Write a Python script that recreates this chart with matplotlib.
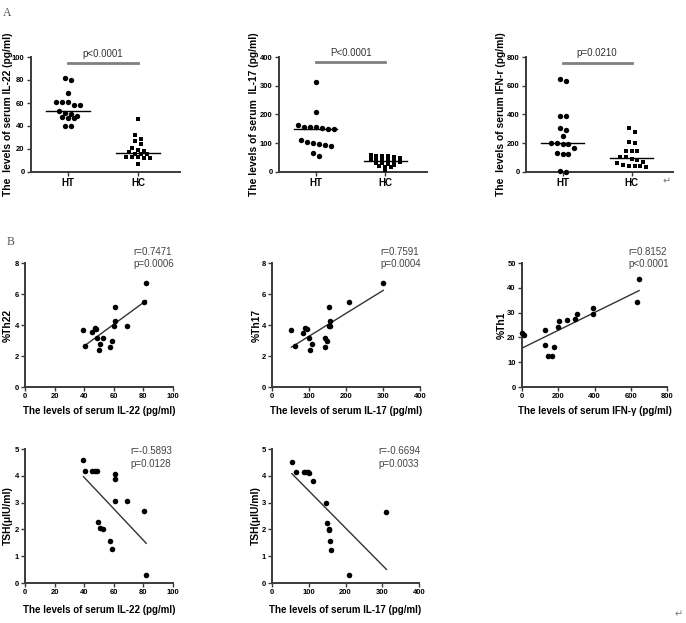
import numpy as np
import matplotlib
matplotlib.use("Agg")
import matplotlib.pyplot as plt
from matplotlib import font_manager

# ---------------- data ----------------
groups = ["HT", "HC"]

il22_ht = [82, 80, 69, 61, 61, 61, 58, 58, 53, 51, 50, 49, 48, 47, 47, 40, 40]
il22_hc = [46, 32, 29, 27, 24, 21, 19, 18, 17, 16, 16, 16, 13, 13, 13, 12, 12, 7]
il17_ht = [312, 208, 162, 158, 158, 155, 153, 151, 149, 112, 105, 102, 98, 95, 91, 67, 56]
il17_hc = [58, 57, 55, 55, 52, 48, 46, 44, 42, 40, 39, 36, 33, 30, 27, 24, 21, 18, 16, 8]
ifn_ht = [649, 635, 393, 393, 307, 293, 247, 200, 200, 195, 193, 170, 135, 126, 126, 5, 0]
ifn_hc = [309, 277, 212, 200, 149, 149, 149, 102, 102, 93, 80, 70, 60, 51, 45, 40, 40, 35]

pvals_a = ["p<0.0001", "P<0.0001", "p=0.0210"]

# correlation panels
b1_il22 = [39.5, 40.4, 45.4, 47.2, 48.1, 48.5, 49.9, 50.8, 52.6, 57.6, 58.5, 60.5, 61.0, 60.3, 68.8, 80.1, 81.9]
b1_th22 = [3.66, 2.62, 3.53, 3.83, 3.74, 3.18, 2.41, 2.77, 3.16, 2.58, 2.95, 5.18, 4.26, 3.91, 3.96, 5.48, 6.71]

b2_il17 = [52.4, 63.2, 84, 90.3, 95.7, 99.3, 102, 108, 144.5, 144.5, 148, 153.5, 156, 153.5, 156, 206.8, 300.7]
b2_th17 = [3.66, 2.62, 3.5, 3.83, 3.74, 3.18, 2.41, 2.77, 3.16, 2.58, 2.95, 5.18, 4.26, 3.91, 3.96, 5.48, 6.71]

b3_ifn = [0, 9, 128, 128, 141, 168, 179, 198, 203, 251, 293, 305, 394, 394, 632, 646]
b3_th1 = [21.8, 20.8, 22.8, 16.8, 12.4, 12.4, 16.0, 24.2, 26.6, 27.2, 27.6, 29.3, 31.9, 29.3, 34.1, 43.7]

c1_il22 = [39.5, 40.4, 45.4, 47.0, 48.5, 49.4, 50.8, 52.6, 57.6, 58.5, 60.5, 61.0, 60.5, 68.8, 80.1, 81.9]
c1_tsh = [4.6, 4.19, 4.19, 4.19, 4.19, 2.27, 2.04, 2.02, 1.58, 1.27, 4.08, 3.88, 3.07, 3.07, 2.7, 0.31]

c2_il17 = [54.2, 65, 87.6, 93, 97.5, 102, 111, 146, 148.8, 154, 156, 158, 160, 208.6, 311.5]
c2_tsh = [4.53, 4.15, 4.15, 4.15, 4.15, 4.1, 3.82, 2.98, 2.23, 2.0, 1.98, 1.55, 1.23, 0.3, 2.64]

stats_b = [("r=0.7471", "p=0.0006"), ("r=0.7591", "p=0.0004"), ("r=0.8152", "p<0.0001")]
stats_c = [("r=-0.5893", "p=0.0128"), ("r=-0.6694", "p=0.0033")]

# ---------------- styling ----------------
avail = {f.name for f in font_manager.fontManager.ttflist}
BOLD = "Liberation Sans" if "Liberation Sans" in avail else "DejaVu Sans"
NARROW = "Liberation Sans Narrow" if "Liberation Sans Narrow" in avail else BOLD
SERIF = "Liberation Serif" if "Liberation Serif" in avail else "DejaVu Serif"

W, H = 686, 623
fig = plt.figure(figsize=(W / 100, H / 100), dpi=100)
fig.patch.set_facecolor("white")

SPINE = "#3a3a3a"
YLAB_FS = 7.4
XLAB_FS = 7.0
TICK_FS = 5.5
STAT_FS = 7.0


def add_ax(l, r, t, b):
    return fig.add_axes([l / W, 1 - b / H, (r - l) / W, (b - t) / H])


def style(ax, ylabel, label_px, left_px, right_px):
    for s in ("top", "right"):
        ax.spines[s].set_visible(False)
    for s in ("left", "bottom"):
        ax.spines[s].set_color(SPINE)
        ax.spines[s].set_linewidth(1.4)
    ax.tick_params(direction="out", length=3, width=1, color=SPINE, pad=1.5,
                   labelsize=TICK_FS)
    for lab in ax.get_xticklabels() + ax.get_yticklabels():
        lab.set_fontfamily(BOLD)
        lab.set_fontweight("bold")
    ax.set_ylabel(ylabel, fontfamily=BOLD, fontweight="bold", fontsize=YLAB_FS)
    ax.yaxis.label.set_va("center")
    ax.yaxis.set_label_coords((label_px - left_px) / (right_px - left_px), 0.5)


def swarm(vals, binsize, spacing):
    """Group values (from high to low) into rows and spread each row sideways."""
    vals = np.asarray(vals, dtype=float)
    order = np.argsort(-vals)
    off = np.zeros(len(vals))
    rows, cur, start = [], [], None
    for i in order:
        if start is None or start - vals[i] < binsize:
            if start is None:
                start = vals[i]
            cur.append(i)
        else:
            rows.append(cur)
            cur, start = [i], vals[i]
    rows.append(cur)
    for row in rows:
        n = len(row)
        off[row] = (np.arange(n) - (n - 1) / 2) * spacing
    return off


# ---------------- panel A ----------------
a_specs = [
    (il22_ht, il22_hc, 31, 180, 100, 20, (5, 4), "The  levels of serum IL-22 (pg/ml)", 8, 95, 103),
    (il17_ht, il17_hc, 279, 427, 400, 100, (22, 12), "The levels of serum  IL-17 (pg/ml)", 254, 384, 414),
    (ifn_ht, ifn_hc, 526, 673, 800, 200, (40, 40), "The  levels of serum IFN-r (pg/ml)", 501, 758, 828),
]
for i, (ht, hc, l, r, ymax, ystep, binsz, ylab, lab_px, bar_y, txt_y) in enumerate(a_specs):
    ax = add_ax(l, r, 57, 172)
    for pos, vals, mk, bs in ((1, ht, "o", binsz[0]), (2, hc, "s", binsz[1])):
        off = swarm(vals, bs, 0.085)
        ax.scatter(pos + off, vals, s=15 if mk == "o" else 12, marker=mk,
                   color="black", zorder=3, clip_on=False, linewidths=0)
        med = np.median(vals)
        ax.plot([pos - 0.31, pos + 0.31], [med, med], color="black", lw=1, zorder=2)
    ax.plot([1, 2], [bar_y, bar_y], color="#808080", lw=2, clip_on=False)
    ax.text(1.5, txt_y, pvals_a[i], ha="center", va="center", fontsize=STAT_FS,
            fontfamily=NARROW, color="#333333", clip_on=False)
    ax.set_xlim(0.47, 2.6)
    ax.set_ylim(0, ymax)
    ax.set_yticks(np.arange(0, ymax + 1, ystep))
    ax.set_xticks([1, 2])
    ax.set_xticklabels(groups)
    style(ax, ylab, lab_px, l, r)
    for lab in ax.get_xticklabels():
        lab.set_fontsize(7)

fig.text(7 / W, 1 - 13 / H, "A", fontfamily=SERIF, fontsize=8.5, color="#555555",
         ha="center", va="center")
fig.text(11 / W, 1 - 242 / H, "B", fontfamily=SERIF, fontsize=8.5, color="#555555",
         ha="center", va="center")

# ---------------- correlation panels ----------------
corr_specs = [
    (b1_il22, b1_th22, 25, 173, 263, 387, 100, 20, 8, 2, "%Th22", 8,
     "The levels of serum IL-22 (pg/ml)", 411, stats_b[0], 133, 246.5),
    (b2_il17, b2_th17, 272, 420, 263, 387, 400, 100, 8, 2, "%Th17", 257,
     "The levels of serum IL-17 (pg/ml)", 411, stats_b[1], 380, 246.5),
    (b3_ifn, b3_th1, 522, 667, 263, 387, 800, 200, 50, 10, "%Th1", 502,
     "The levels of serum IFN-γ (pg/ml)", 411, stats_b[2], 628, 246.5),
    (c1_il22, c1_tsh, 25, 173, 449, 583, 100, 20, 5, 1, "TSH(μIU/ml)", 8,
     "The levels of serum IL-22 (pg/ml)", 610, stats_c[0], 130, 446.5),
    (c2_il17, c2_tsh, 272, 419, 449, 583, 400, 100, 5, 1, "TSH(μIU/ml)", 256,
     "The levels of serum IL-17 (pg/ml)", 610, stats_c[1], 378, 446.5),
]
for (x, y, l, r, t, b, xmax, xstep, ymax, ystep, ylab, lab_px, xlab, xlab_px,
     st, st_px, st_top) in corr_specs:
    ax = add_ax(l, r, t, b)
    ax.scatter(x, y, s=16, color="black", zorder=3, clip_on=False, linewidths=0)
    k, c = np.polyfit(x, y, 1)
    xx = np.array([min(x), max(x)])
    ax.plot(xx, k * xx + c, color="#333333", lw=1)
    ax.set_xlim(0, xmax)
    ax.set_ylim(0, ymax)
    ax.set_xticks(np.arange(0, xmax + 1, xstep))
    ax.set_yticks(np.arange(0, ymax + 0.01, ystep))
    style(ax, ylab, lab_px, l, r)
    ax.set_xlabel(xlab, fontfamily=BOLD, fontweight="bold", fontsize=XLAB_FS)
    ax.xaxis.label.set_va("center")
    ax.xaxis.set_label_coords(0.5, (b - xlab_px) / (b - t))
    ax.text((st_px - l) / (r - l), (b - st_top) / (b - t), st[0] + "\n" + st[1],
            transform=ax.transAxes, ha="left", va="top", fontsize=STAT_FS,
            fontfamily=NARROW, color="#444444", linespacing=1.3, clip_on=False)

# Word paragraph marks
fig.text(667 / W, 1 - 181 / H, "↵", fontsize=7, color="#777777", ha="center", va="center",
         fontfamily="DejaVu Sans")
fig.text(679 / W, 1 - 614 / H, "↵", fontsize=7, color="#777777", ha="center", va="center",
         fontfamily="DejaVu Sans")

fig.savefig("out.png", dpi=100, facecolor="white")
